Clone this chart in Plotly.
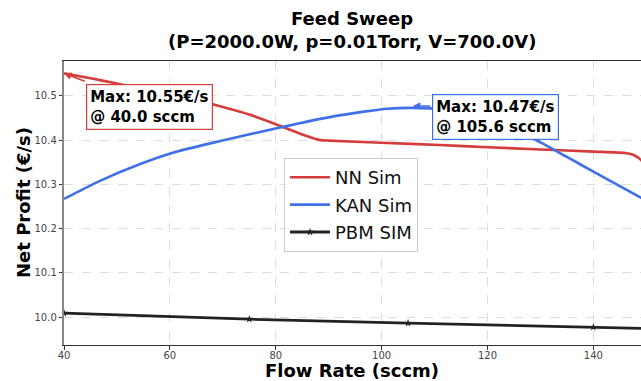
import plotly.graph_objects as go

# ---- data ----
nn_x = [40, 45, 50, 55, 60, 65, 70, 75, 80, 85, 88.5, 90, 100, 111, 120, 130, 140, 146, 147.5, 148.5, 149.5, 150]
nn_y = [10.551, 10.540, 10.528, 10.515, 10.502, 10.490, 10.475, 10.458, 10.436, 10.413, 10.400, 10.399,
        10.394, 10.389, 10.384, 10.379, 10.374, 10.371, 10.367, 10.360, 10.349, 10.343]

kan_x = [40, 46.8, 54.4, 60.4, 69.5, 80.6, 90.2, 97, 101, 105.6, 110, 115, 120, 125, 130, 135, 140, 145, 150]
kan_y = [10.267, 10.308, 10.346, 10.371, 10.398, 10.428, 10.452, 10.465, 10.471, 10.473, 10.471, 10.462, 10.447,
         10.425, 10.395, 10.362, 10.329, 10.296, 10.263]

pbm_x = [40, 75, 105, 140, 150]
pbm_y = [10.009, 9.995, 9.986, 9.977, 9.974]

nn_max = (40.0, 10.55)
kan_max = (105.6, 10.47)

x_ticks = [40, 60, 80, 100, 120, 140]
y_ticks = [10.0, 10.1, 10.2, 10.3, 10.4, 10.5]

RED = "#d63c3c"
BLUE = "#4070e8"
BLACK = "#222222"
FONT = "DejaVu Sans"

L, T, B, W, H = 64, 61, 36, 641, 381
PW, PH = W - L, H - T - B


def px_x(p):
    return (p - L) / PW


def px_y(p):
    return (H - B - p) / PH


fig = go.Figure()
fig.add_trace(go.Scatter(x=nn_x, y=nn_y, mode="lines", name="NN Sim",
                         line=dict(color=RED, width=2.6, shape="spline", smoothing=0.5),
                         legendgroup="a"))
fig.add_trace(go.Scatter(x=kan_x, y=kan_y, mode="lines", name="KAN Sim",
                         line=dict(color=BLUE, width=2.6, shape="spline", smoothing=0.8),
                         legendgroup="b"))
fig.add_trace(go.Scatter(x=pbm_x, y=pbm_y, mode="lines+markers", name="PBM SIM",
                         line=dict(color=BLACK, width=2.8),
                         marker=dict(symbol="star", size=6, color=BLACK), legendgroup="c"))

# annotation boxes
fig.add_annotation(x=44.16, y=10.527, xref="x", yref="y", showarrow=False,
                   text=f"<b>Max: {nn_max[1]:.2f}€/s<br>@ {nn_max[0]:.1f} sccm</b>",
                   align="left", xanchor="left", yanchor="top",
                   font=dict(family=FONT, size=15, color="black"),
                   bgcolor="white", bordercolor=RED, borderwidth=1.2, borderpad=3)
fig.add_annotation(x=109.5, y=10.5045, xref="x", yref="y", showarrow=False,
                   text=f"<b>Max: {kan_max[1]:.2f}€/s<br>@ {kan_max[0]:.1f} sccm</b>",
                   align="left", xanchor="left", yanchor="top",
                   font=dict(family=FONT, size=15, color="black"),
                   bgcolor="white", bordercolor=BLUE, borderwidth=1.2, borderpad=3)
# arrows
fig.add_annotation(x=nn_max[0], y=10.551, ax=44.2, ay=10.532, xref="x", yref="y",
                   axref="x", ayref="y", text="", showarrow=True,
                   arrowhead=2, arrowsize=1, arrowwidth=1.5, arrowcolor=RED)
fig.add_annotation(x=kan_max[0] + 0.3, y=10.477, ax=109.5, ay=10.477, xref="x", yref="y",
                   axref="x", ayref="y", text="", showarrow=True,
                   arrowhead=2, arrowsize=1, arrowwidth=1.5, arrowcolor=BLUE)

# title and axis titles as paper annotations
fig.add_annotation(x=px_x(352), y=px_y(18), xref="paper", yref="paper",
                   yanchor="middle", xanchor="center", showarrow=False,
                   text="<b>Feed Sweep</b>", font=dict(family=FONT, size=18, color="black"))
fig.add_annotation(x=px_x(352), y=px_y(42), xref="paper", yref="paper",
                   yanchor="middle", xanchor="center", showarrow=False,
                   text="<b>(P=2000.0W, p=0.01Torr, V=700.0V)</b>",
                   font=dict(family=FONT, size=18, color="black"))
fig.add_annotation(x=px_x(352), y=px_y(370), xref="paper", yref="paper",
                   yanchor="middle", xanchor="center", showarrow=False,
                   text="<b>Flow Rate (sccm)</b>", font=dict(family=FONT, size=18, color="black"))
fig.add_annotation(x=px_x(23), y=0.5, xref="paper", yref="paper",
                   yanchor="middle", xanchor="center", showarrow=False, textangle=-90,
                   text="<b>Net Profit (€/s)</b>", font=dict(family=FONT, size=18, color="black"))

fig.update_layout(
    width=W, height=H,
    margin=dict(l=L, r=0, t=T, b=B, autoexpand=False),
    paper_bgcolor="white", plot_bgcolor="white",
    font=dict(family=FONT, color="black"),
    showlegend=True,
    legend=dict(x=px_x(284), y=px_y(158), xanchor="left", yanchor="top",
                bgcolor="rgba(255,255,255,0.9)", bordercolor="#cccccc", borderwidth=1,
                font=dict(family=FONT, size=18, color="#111"),
                tracegroupgap=1, traceorder="grouped", itemwidth=40),
)
fig.update_xaxes(range=[40, 149.0], tickvals=x_ticks, ticktext=[str(v) for v in x_ticks],
                 automargin=False,
                 showgrid=True, gridcolor="#dddddd", griddash="dash", gridwidth=0.8,
                 showline=True, linecolor="#333333", linewidth=1.3, mirror=True,
                 ticks="outside", ticklen=3.5, tickcolor="#333333", ticklabelstandoff=-3,
                 tickfont=dict(family=FONT, size=10, color="#444"), zeroline=False)
fig.update_yaxes(range=[9.9367, 10.579], tickvals=y_ticks, ticktext=[f"{v:.1f}" for v in y_ticks],
                 automargin=False,
                 showgrid=True, gridcolor="#dddddd", griddash="dash", gridwidth=0.8,
                 showline=True, linecolor="#888888", linewidth=1.5,
                 ticks="outside", ticklen=3.5, tickcolor="#333333",
                 tickfont=dict(family=FONT, size=10, color="#444"), zeroline=False)

fig.write_html("out.html", config={"displayModeBar": False},
               post_script="document.body.style.margin='0';document.body.style.overflow='hidden';")
